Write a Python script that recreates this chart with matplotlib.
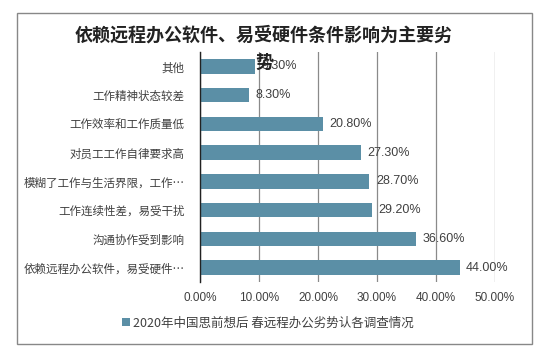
import matplotlib
matplotlib.use('Agg')
import matplotlib.pyplot as plt
from matplotlib.patches import Rectangle

plt.rcParams['font.family'] = ['Noto Sans CJK SC', 'DejaVu Sans']

# données (de haut en bas)
categories = ['其他', '工作精神状态较差', '工作效率和工作质量低', '对员工工作自律要求高',
              '模糊了工作与生活界限，工作…', '工作连续性差，易受干扰',
              '沟通协作受到影响', '依赖远程办公软件，易受硬件…']
valeurs = [9.3, 8.3, 20.8, 27.3, 28.7, 29.2, 36.6, 44.0]
ticks_x = [0, 10, 20, 30, 40, 50]
titre = '依赖远程办公软件、易受硬件条件影响为主要劣\n势'
legende = '2020年中国思前想后 春远程办公劣势认各调查情况'

couleur = '#5B8FA6'
texte = '#404040'

fig = plt.figure(figsize=(5.49, 3.57), dpi=100)
ax = fig.add_axes([200/549, 1-282/357, 295/549, 230/357])

pos = list(range(len(categories)))[::-1]
ax.barh(pos, valeurs, height=0.5, color=couleur, zorder=3, label=legende)
for p, v in zip(pos, valeurs):
    ax.text(v + 1.1, p, f'{v:.2f}%', va='center', ha='left', fontsize=9,
            color=texte, family=['Liberation Sans', 'DejaVu Sans'], zorder=4)

ax.set_ylim(-0.5, len(categories) - 0.5)
ax.set_xlim(0, 50)
ax.set_yticks(pos)
ax.set_yticklabels(categories, fontsize=8.3, color=texte)
ax.set_xticks(ticks_x)
ax.set_xticklabels([f'{t:.2f}%' for t in ticks_x], fontsize=8.5, color=texte,
                   family=['Liberation Sans', 'DejaVu Sans'])
ax.tick_params(axis='y', length=0, pad=11)
ax.tick_params(axis='x', length=0, pad=7)
ax.grid(axis='x', color='#8a8a8a', linewidth=0.9, zorder=0)
for s in ['top', 'right', 'bottom']:
    ax.spines[s].set_visible(False)
ax.spines['left'].set_color('#222222')
ax.spines['left'].set_linewidth(1.0)
ax.spines['left'].set_zorder(5)

fig.text(264/549, 1-26/357, titre, ha='center', va='top', fontsize=13,
         fontweight='bold', color='#222222', linespacing=1.5,
         transform=fig.transFigure)

leg = fig.legend(loc='center', bbox_to_anchor=(268/549, 1-323/357), frameon=False,
                 fontsize=9, handlelength=0.6, handleheight=0.6, handletextpad=0.3,
                 labelcolor=texte)

# cadre
fig.patches.append(Rectangle((17/549, 1-344/357), 515/549, 331/357,
                             transform=fig.transFigure, fill=False,
                             edgecolor='#888888', linewidth=1.0))

fig.savefig('out.png', dpi=100)
